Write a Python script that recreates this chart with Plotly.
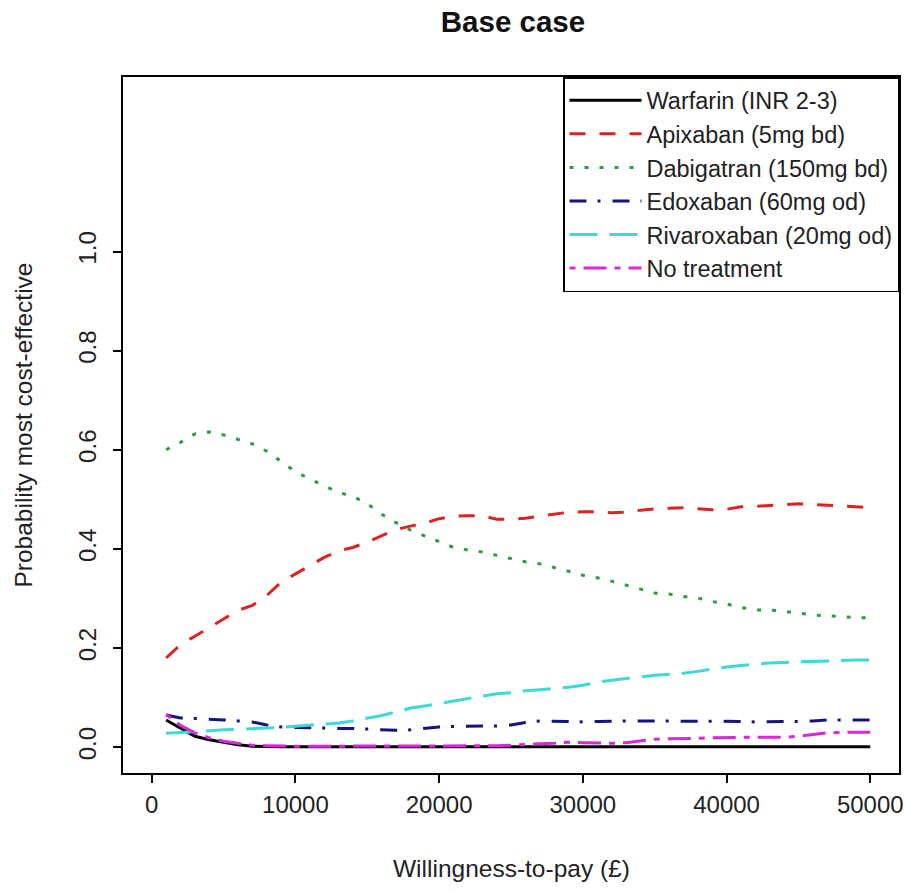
import plotly.graph_objects as go

wtp = list(range(1000, 50001, 1000))

warfarin = [0.055, 0.038, 0.022, 0.015, 0.010, 0.005, 0.002, 0.001, 0.001, 0.001,
            0.001, 0.001, 0.001, 0.001, 0.001, 0.001, 0.001, 0.001, 0.001, 0.001,
            0.001, 0.001, 0.001, 0.001, 0.001, 0.001, 0.001, 0.001, 0.001, 0.001,
            0.001, 0.001, 0.001, 0.001, 0.001, 0.001, 0.001, 0.001, 0.001, 0.001,
            0.001, 0.001, 0.001, 0.001, 0.001, 0.001, 0.001, 0.001, 0.001, 0.001]

apixaban = [0.180, 0.207, 0.224, 0.241, 0.259, 0.276, 0.286, 0.306, 0.333, 0.350,
            0.367, 0.383, 0.396, 0.403, 0.414, 0.426, 0.439, 0.446, 0.452, 0.461,
            0.466, 0.467, 0.467, 0.460, 0.460, 0.462, 0.466, 0.471, 0.474, 0.475,
            0.475, 0.473, 0.474, 0.478, 0.481, 0.482, 0.483, 0.481, 0.479, 0.480,
            0.485, 0.486, 0.487, 0.489, 0.491, 0.490, 0.488, 0.487, 0.485, 0.483]

dabigatran = [0.600, 0.615, 0.632, 0.636, 0.630, 0.621, 0.612, 0.597, 0.576, 0.556,
              0.541, 0.527, 0.514, 0.506, 0.491, 0.470, 0.453, 0.438, 0.426, 0.414,
              0.403, 0.398, 0.394, 0.387, 0.380, 0.374, 0.370, 0.363, 0.355, 0.347,
              0.342, 0.335, 0.327, 0.318, 0.311, 0.309, 0.304, 0.301, 0.294, 0.289,
              0.282, 0.277, 0.277, 0.274, 0.270, 0.267, 0.265, 0.264, 0.261, 0.261]

edoxaban = [0.065, 0.059, 0.058, 0.057, 0.055, 0.053, 0.051, 0.045, 0.041, 0.040,
            0.039, 0.038, 0.038, 0.038, 0.037, 0.036, 0.034, 0.035, 0.038, 0.041,
            0.042, 0.042, 0.042, 0.043, 0.045, 0.050, 0.053, 0.052, 0.051, 0.051,
            0.052, 0.053, 0.053, 0.053, 0.053, 0.053, 0.053, 0.053, 0.053, 0.052,
            0.052, 0.051, 0.051, 0.051, 0.052, 0.053, 0.055, 0.055, 0.055, 0.055]

rivaroxaban = [0.028, 0.030, 0.031, 0.033, 0.035, 0.036, 0.038, 0.039, 0.040, 0.042,
               0.044, 0.046, 0.049, 0.053, 0.058, 0.064, 0.071, 0.079, 0.083, 0.088,
               0.092, 0.097, 0.103, 0.108, 0.110, 0.114, 0.116, 0.118, 0.121, 0.125,
               0.131, 0.135, 0.139, 0.142, 0.145, 0.147, 0.149, 0.153, 0.158, 0.162,
               0.165, 0.168, 0.170, 0.171, 0.172, 0.173, 0.175, 0.176, 0.176, 0.176]

no_treatment = [0.066, 0.044, 0.029, 0.019, 0.012, 0.008, 0.004, 0.003, 0.002, 0.002,
                0.002, 0.002, 0.002, 0.002, 0.002, 0.002, 0.002, 0.002, 0.002, 0.002,
                0.002, 0.002, 0.002, 0.003, 0.004, 0.006, 0.007, 0.008, 0.010, 0.009,
                0.008, 0.008, 0.009, 0.012, 0.016, 0.017, 0.017, 0.018, 0.019, 0.020,
                0.020, 0.020, 0.020, 0.020, 0.022, 0.026, 0.029, 0.030, 0.030, 0.030]

names = ["Warfarin (INR 2-3)", "Apixaban (5mg bd)", "Dabigatran (150mg bd)",
         "Edoxaban (60mg od)", "Rivaroxaban (20mg od)", "No treatment"]
series = [warfarin, apixaban, dabigatran, edoxaban, rivaroxaban, no_treatment]
colors = ["#000000", "#DD2222", "#2E9E3C", "#14147E", "#3DD8D8", "#D62AD6"]
dashes = ["solid", "16px,14px", "4px,11px", "17px,11px,3px,12px", "28px,12px", "6px,8px,23px,8px"]

x_ticks = [0, 10000, 20000, 30000, 40000, 50000]
x_labels = ["0", "10000", "20000", "30000", "40000", "50000"]
y_ticks = [0, 0.2, 0.4, 0.6, 0.8, 1.0]
y_labels = ["0.0", "0.2", "0.4", "0.6", "0.8", "1.0"]

FONT = "Liberation Sans, Arial, sans-serif"
TXT = "#222222"

W, H = 910, 893
L, R, T, B = 123, 7, 77, 120
PW, PH = W - L - R, H - T - B

fig = go.Figure()
for n, s, c, d in zip(names, series, colors, dashes):
    fig.add_trace(go.Scatter(x=wtp, y=s, mode="lines", name=n,
                             line=dict(color=c, width=3, dash=d)))

fig.update_layout(
    width=W, height=H,
    margin=dict(l=L, r=R, t=T, b=B),
    paper_bgcolor="white", plot_bgcolor="white",
    font=dict(family=FONT, size=24, color=TXT),
    title=dict(text="<b>Base case</b>", x=(L + PW / 2) / W, xanchor="center",
               y=1 - 22 / H, yanchor="middle",
               font=dict(family=FONT, size=29.5, color="#111111")),
    showlegend=True,
    legend=dict(x=1, y=1, xanchor="right", yanchor="top",
                bgcolor="white", bordercolor="black", borderwidth=1.5,
                font=dict(family=FONT, size=23.5, color=TXT),
                tracegroupgap=0, itemwidth=72),
    xaxis=dict(range=[-2000, 52000], tickmode="array",
               tickvals=x_ticks, ticktext=x_labels,
               ticks="outside", ticklen=8, tickwidth=1.5, tickcolor="black",
               showline=True, linecolor="black", linewidth=1.5, mirror=True,
               showgrid=False, zeroline=False, ticklabelstandoff=1),
    yaxis=dict(range=[-0.052, 1.352], tickmode="array",
               tickvals=y_ticks, ticktext=y_labels,
               tickangle=-90,
               ticks="outside", ticklen=8, tickwidth=1.5, tickcolor="black",
               showline=True, linecolor="black", linewidth=1.5, mirror=True,
               showgrid=False, zeroline=False, ticklabelstandoff=8),
)

fig.add_annotation(text="Willingness-to-pay (£)", xref="paper", yref="paper",
                   x=0.5, y=-95 / PH, xanchor="center", yanchor="middle",
                   showarrow=False, font=dict(family=FONT, size=24.5, color=TXT))
fig.add_annotation(text="Probability most cost-effective", xref="paper", yref="paper",
                   x=-101 / PW, y=0.5, xanchor="center", yanchor="middle",
                   textangle=-90, showarrow=False,
                   font=dict(family=FONT, size=24.5, color=TXT))

fig.write_html("out.html", config={"displayModeBar": False},
               post_script="document.body.style.margin='0';")
